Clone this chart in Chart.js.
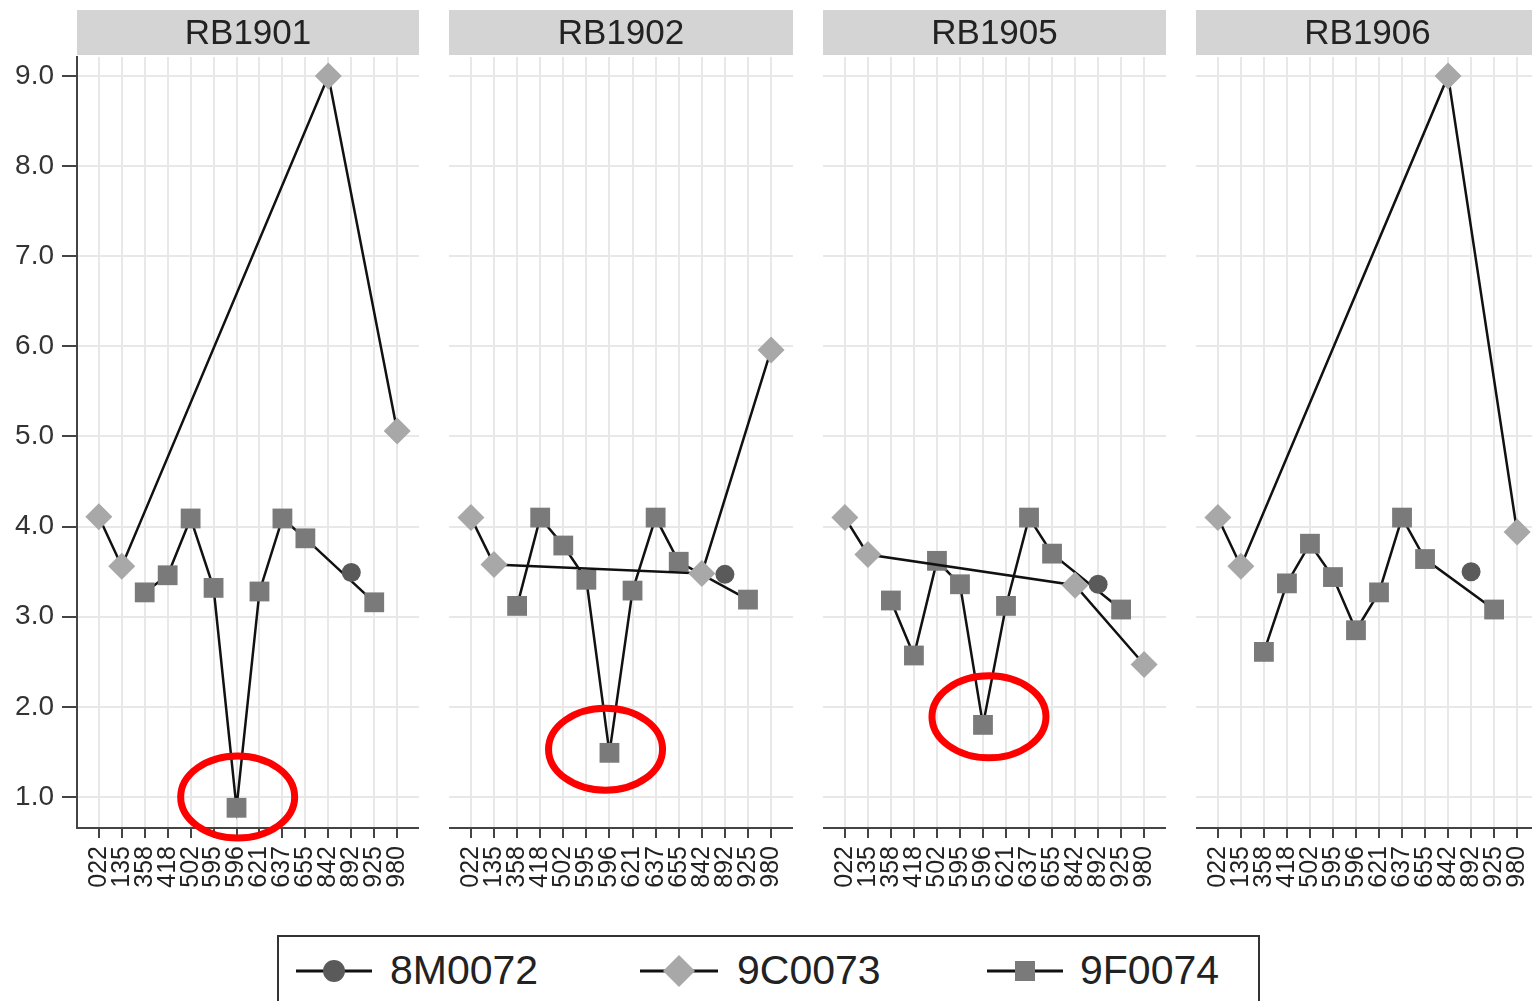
<!DOCTYPE html>
<html>
<head>
<meta charset="utf-8">
<script src="https://cdn.jsdelivr.net/npm/chart.js@4.4.0/dist/chart.umd.min.js"></script>
<style>
  html, body { margin: 0; padding: 0; background: #fff; width: 1532px; height: 1001px; overflow: hidden; }
  canvas { position: absolute; top: 0; }
  #legend {
    position: absolute; left: 277px; top: 935px; width: 983px; height: 90px;
    border: 2px solid #333; box-sizing: border-box;
    font-family: "Liberation Sans", Arial, sans-serif; font-size: 41px; color: #222;
  }
  .mark { position: absolute; top: 14px; }
  .lbl { position: absolute; top: 11px; line-height: 44px; }
</style>
</head>
<body>
<canvas id="p1" width="419" height="910" style="left:0px"></canvas>
<canvas id="p2" width="344" height="910" style="left:449px"></canvas>
<canvas id="p3" width="343" height="910" style="left:823px"></canvas>
<canvas id="p4" width="343" height="910" style="left:1196px"></canvas>

<div id="legend">
  <svg class="mark" style="left:17px" width="78" height="40">
    <line x1="0" y1="20" x2="76" y2="20" stroke="#111" stroke-width="3"/>
    <circle cx="38" cy="20" r="11" fill="#5a5a5a"/>
  </svg>
  <span class="lbl" style="left:111px">8M0072</span>
  <svg class="mark" style="left:361px" width="80" height="40">
    <line x1="0" y1="20" x2="78" y2="20" stroke="#111" stroke-width="3"/>
    <polygon points="39,4 55,20 39,36 23,20" fill="#a8a8a8"/>
  </svg>
  <span class="lbl" style="left:458px">9C0073</span>
  <svg class="mark" style="left:708px" width="78" height="40">
    <line x1="0" y1="20" x2="76" y2="20" stroke="#111" stroke-width="3"/>
    <rect x="28" y="10" width="20" height="20" fill="#7a7a7a"/>
  </svg>
  <span class="lbl" style="left:801px">9F0074</span>
</div>

<script>
const codes = ["022", "135", "358", "418", "502", "595", "596", "621", "637", "655", "842", "892", "925", "980"];
const yTicks = [1, 2, 3, 4, 5, 6, 7, 8, 9];

// RB1901
const m8_1901 = [null, null, null, null, null, null, null, null, null, null, null, 3.49, null, null];
const c9_1901 = [4.11, 3.56, null, null, null, null, null, null, null, null, 9.0, null, null, 5.06];
const f9_1901 = [null, null, 3.27, 3.46, 4.09, 3.32, 0.88, 3.28, 4.09, 3.87, null, null, 3.16, null];

// RB1902
const m8_1902 = [null, null, null, null, null, null, null, null, null, null, null, 3.47, null, null];
const c9_1902 = [4.1, 3.58, null, null, null, null, null, null, null, null, 3.48, null, null, 5.96];
const f9_1902 = [null, null, 3.12, 4.1, 3.79, 3.41, 1.49, 3.29, 4.1, 3.61, null, null, 3.19, null];

// RB1905
const m8_1905 = [null, null, null, null, null, null, null, null, null, null, null, 3.36, null, null];
const c9_1905 = [4.1, 3.69, null, null, null, null, null, null, null, null, 3.35, null, null, 2.47];
const f9_1905 = [null, null, 3.18, 2.57, 3.62, 3.36, 1.8, 3.12, 4.1, 3.7, null, null, 3.08, null];

// RB1906
const m8_1906 = [null, null, null, null, null, null, null, null, null, null, null, 3.5, null, null];
const c9_1906 = [4.1, 3.56, null, null, null, null, null, null, null, null, 9.0, null, null, 3.94];
const f9_1906 = [null, null, 2.61, 3.37, 3.81, 3.44, 2.85, 3.27, 4.1, 3.64, null, null, 3.08, null];

// red rings around the 596 dips: centre [x index, y value]
const ring_1901 = [6.05, 1.0];
const ring_1902 = [5.83, 1.53];
const ring_1905 = [6.26, 1.89];

const font = "'Liberation Sans', Arial, sans-serif";

// grey strip behind each panel title
const stripPlugin = {
  id: "strip",
  beforeDraw(chart) {
    const { ctx, chartArea } = chart;
    ctx.save();
    ctx.fillStyle = "#d4d4d4";
    ctx.fillRect(chartArea.left, 10, chartArea.right - chartArea.left, 45);
    ctx.restore();
  },
};

const ringPlugin = {
  id: "ring",
  afterDraw(chart, args, opts) {
    if (!opts.at) return;
    const { ctx, scales } = chart;
    const cx = scales.x.getPixelForValue(opts.at[0]);
    const cy = scales.y.getPixelForValue(opts.at[1]);
    ctx.save();
    ctx.strokeStyle = "#f00";
    ctx.lineWidth = 7;
    ctx.beginPath();
    ctx.ellipse(cx, cy, 57, 41, 0, 0, Math.PI * 2);
    ctx.stroke();
    ctx.restore();
  },
};

function toPoints(arr) {
  return arr.map((v, i) => ({ x: i, y: v }));
}

function series(label, arr, style, radius, fillColor) {
  return {
    label: label,
    data: toPoints(arr),
    spanGaps: true,
    borderColor: "#111",
    borderWidth: 2.5,
    tension: 0,
    fill: false,
    clip: false,
    pointStyle: style,
    pointRadius: radius,
    pointHoverRadius: radius,
    pointBackgroundColor: fillColor,
    pointBorderColor: fillColor,
    pointBorderWidth: 0,
  };
}

function renderPanel(id, title, m8, c9, f9, showY, ring) {
  const ctx = document.getElementById(id).getContext("2d");
  new Chart(ctx, {
    type: "line",
    data: {
      datasets: [
        series("8M0072", m8, "circle", 9.5, "#5a5a5a"),
        series("9C0073", c9, "rectRot", 13.5, "#a8a8a8"),
        series("9F0074", f9, "rect", 14, "#7a7a7a"),
      ],
    },
    options: {
      responsive: false,
      animation: false,
      layout: { padding: 0, autoPadding: false },
      scales: {
        x: {
          type: "linear",
          min: -0.95,
          max: 13.95,
          afterBuildTicks: (s) => { s.ticks = codes.map((c, i) => ({ value: i })); },
          afterFit: (s) => {
            s.height = 82;
            s.paddingLeft = 0;
            s.paddingRight = 0;
          },
          grid: { color: "#e8e8e8", lineWidth: 2, tickColor: "#444", tickLength: 10, tickWidth: 2 },
          border: { color: "#444", width: 2 },
          ticks: {
            autoSkip: false,
            maxRotation: 90,
            minRotation: 90,
            padding: 8,
            color: "#222",
            font: { family: font, size: 25 },
            callback: (v) => codes[v],
          },
        },
        y: {
          min: 0.656,
          max: 9.21,
          afterBuildTicks: (s) => { s.ticks = yTicks.map((v) => ({ value: v })); },
          afterFit: (s) => {
            s.width = showY ? 77 : 0;
            s.paddingTop = 0;
            s.paddingBottom = 0;
          },
          grid: { color: "#e8e8e8", lineWidth: 2, drawTicks: showY, tickColor: "#444", tickLength: 15, tickWidth: 2 },
          border: { display: showY, color: "#444", width: 2 },
          ticks: {
            display: showY,
            padding: 8,
            color: "#333",
            font: { family: font, size: 28 },
            callback: (v) => v.toFixed(1),
          },
        },
      },
      plugins: {
        legend: { display: false },
        tooltip: { enabled: false },
        ring: { at: ring },
        title: {
          display: true,
          text: title,
          fullSize: false,
          color: "#222",
          font: { family: font, size: 35, weight: "normal" },
          padding: { top: 13, bottom: 2 },
        },
      },
    },
    plugins: [stripPlugin, ringPlugin],
  });
}

renderPanel("p1", "RB1901", m8_1901, c9_1901, f9_1901, true, ring_1901);
renderPanel("p2", "RB1902", m8_1902, c9_1902, f9_1902, false, ring_1902);
renderPanel("p3", "RB1905", m8_1905, c9_1905, f9_1905, false, ring_1905);
renderPanel("p4", "RB1906", m8_1906, c9_1906, f9_1906, false, null);
</script>
</body>
</html>
